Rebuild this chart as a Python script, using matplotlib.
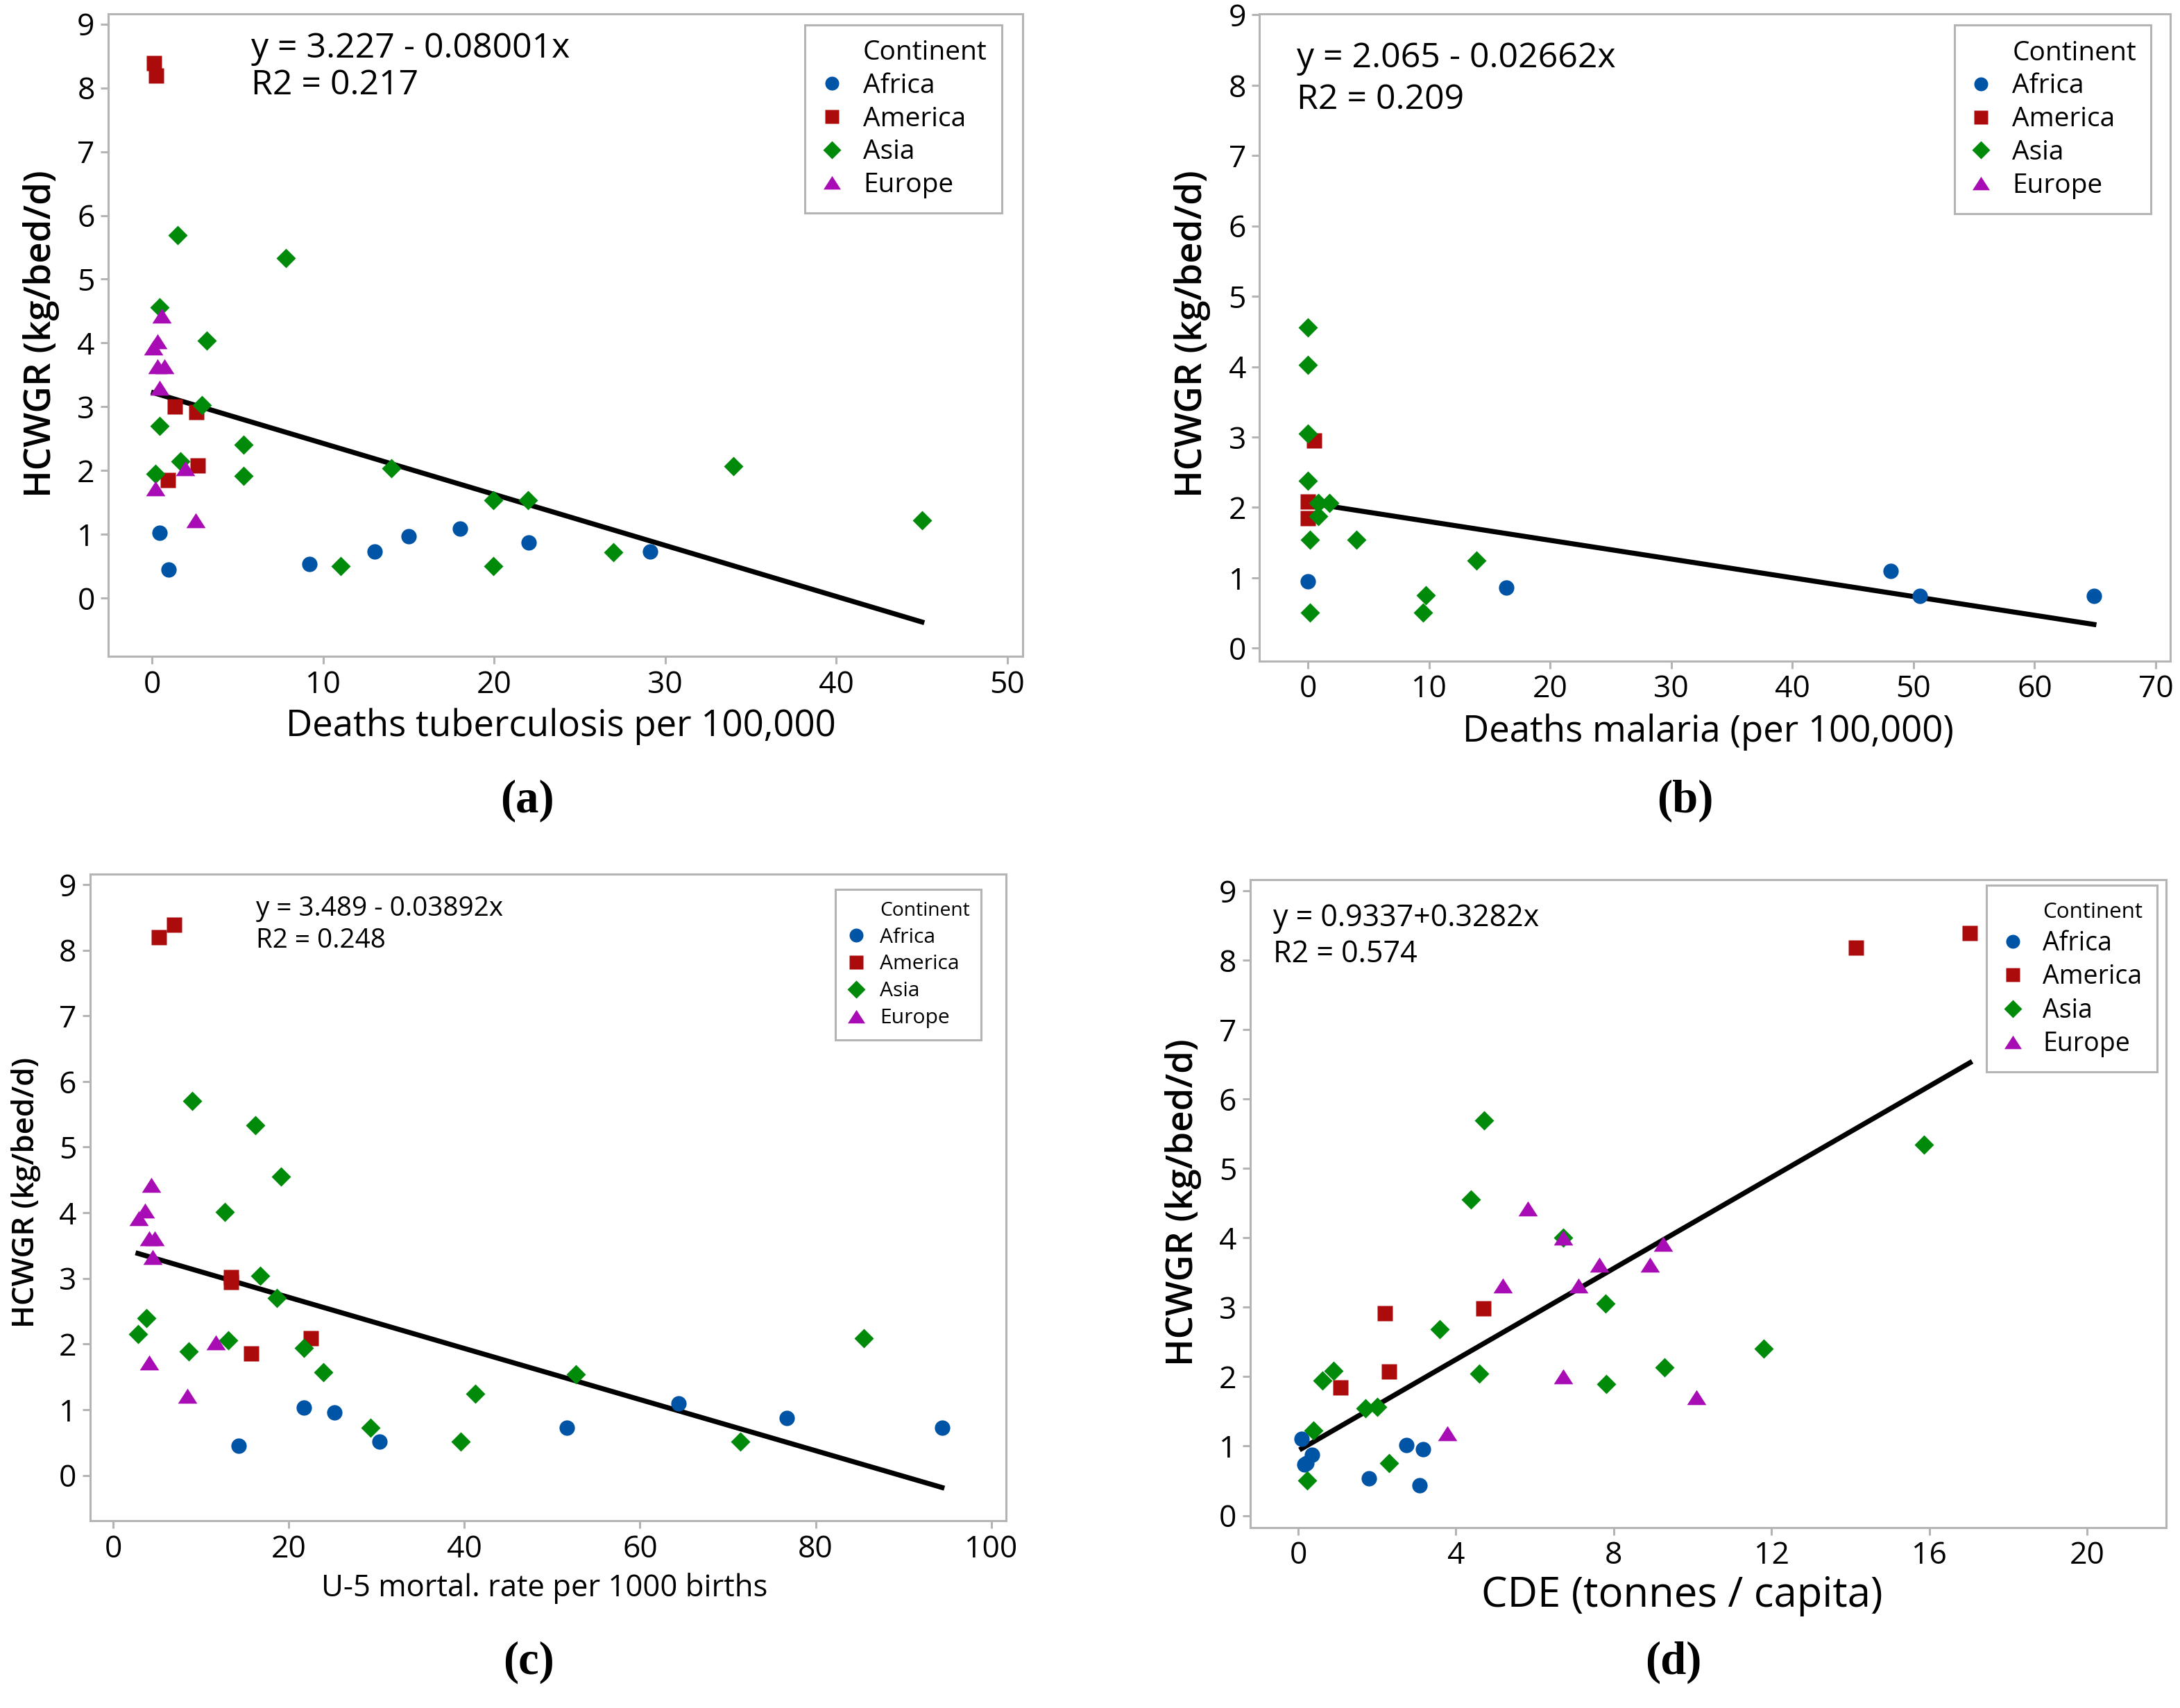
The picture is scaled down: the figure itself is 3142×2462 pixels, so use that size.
import numpy as np
import matplotlib
matplotlib.use("Agg")
import matplotlib.pyplot as plt
from matplotlib.lines import Line2D

plt.rcParams['font.family'] = ['Open Sans', 'DejaVu Sans']

continents = ["Africa", "America", "Asia", "Europe"]
colors = {"Africa": "#0054a6", "America": "#ab0b0b", "Asia": "#008a0a", "Europe": "#a80cb4"}
tri = [(-1, -0.78), (1, -0.78), (0, 0.78)]
markers = {"Africa": "o", "America": "s", "Asia": "D", "Europe": tri}
msizes = {"Africa": 8, "America": 8, "Asia": 7.2, "Europe": 10}

# (a) deaths tuberculosis per 100,000
tb_africa_x = [0.45, 0.96, 9.2, 13.0, 15.0, 18.0, 22.0, 29.1]
tb_africa_y = [1.03, 0.45, 0.53, 0.73, 0.97, 1.09, 0.87, 0.73]
tb_america_x = [0.12, 0.23, 1.35, 2.6, 2.68, 0.95]
tb_america_y = [8.39, 8.19, 3.0, 2.92, 2.08, 1.85]
tb_asia_x = [1.48, 7.84, 0.45, 3.2, 2.93, 0.46, 5.35, 1.67, 0.22, 5.35, 14.0, 19.97, 21.96, 33.97, 45.0, 11.04, 19.97, 26.95]
tb_asia_y = [5.69, 5.33, 4.56, 4.04, 3.03, 2.7, 2.41, 2.15, 1.95, 1.92, 2.04, 1.54, 1.54, 2.07, 1.22, 0.5, 0.5, 0.72]
tb_europe_x = [0.58, 0.34, 0.09, 0.31, 0.74, 0.45, 1.95, 0.2, 2.55]
tb_europe_y = [4.43, 4.03, 3.93, 3.64, 3.64, 3.3, 2.04, 1.72, 1.22]

# (b) deaths malaria per 100,000
ml_africa_x = [0, 16.4, 48.1, 50.5, 64.9]
ml_africa_y = [0.95, 0.86, 1.1, 0.74, 0.74]
ml_america_x = [0.5, 0, 0]
ml_america_y = [2.95, 2.08, 1.85]
ml_asia_x = [0, 0, 0, 0, 0.85, 1.76, 0.85, 0.17, 3.97, 13.9, 9.7, 9.5, 0.17]
ml_asia_y = [4.56, 4.03, 3.05, 2.38, 2.06, 2.06, 1.88, 1.54, 1.54, 1.25, 0.75, 0.51, 0.51]
ml_europe_x = []
ml_europe_y = []

# (c) under-5 mortality rate per 1000 births
u5_africa_x = [14.3, 21.7, 25.2, 30.3, 51.7, 64.4, 76.7, 94.4]
u5_africa_y = [0.45, 1.03, 0.96, 0.51, 0.73, 1.09, 0.87, 0.73]
u5_america_x = [5.2, 6.9, 13.4, 13.4, 22.5, 15.7]
u5_america_y = [8.2, 8.39, 3.02, 2.94, 2.09, 1.86]
u5_asia_x = [9.0, 16.2, 19.1, 12.7, 16.7, 18.6, 3.8, 2.8, 8.6, 13.1, 21.7, 23.9, 29.3, 39.6, 41.2, 52.7, 71.4, 85.5]
u5_asia_y = [5.70, 5.33, 4.55, 4.01, 3.04, 2.70, 2.40, 2.15, 1.89, 2.06, 1.94, 1.57, 0.73, 0.51, 1.24, 1.54, 0.51, 2.09]
u5_europe_x = [4.3, 3.6, 2.9, 4.1, 4.7, 4.5, 11.7, 4.1, 8.4]
u5_europe_y = [4.42, 4.03, 3.92, 3.61, 3.61, 3.32, 2.03, 1.72, 1.21]

# (d) CDE tonnes / capita
cde_africa_x = [0.09, 0.35, 0.22, 0.16, 1.79, 2.75, 3.17, 3.07]
cde_africa_y = [1.10, 0.87, 0.75, 0.73, 0.53, 1.01, 0.95, 0.43]
cde_america_x = [14.14, 17.03, 2.19, 4.7, 2.3, 1.08]
cde_america_y = [8.18, 8.39, 2.91, 2.98, 2.07, 1.84]
cde_asia_x = [4.71, 15.86, 4.38, 6.71, 7.79, 3.58, 11.81, 9.29, 4.59, 7.81, 0.9, 0.61, 1.70, 2.0, 0.38, 2.31, 0.23]
cde_asia_y = [5.69, 5.34, 4.55, 4.0, 3.05, 2.68, 2.40, 2.13, 2.04, 1.89, 2.08, 1.94, 1.54, 1.56, 1.22, 0.75, 0.50]
cde_europe_x = [5.83, 6.71, 9.25, 7.63, 8.92, 5.18, 7.11, 6.71, 10.1, 3.79]
cde_europe_y = [4.42, 4.0, 3.91, 3.61, 3.61, 3.31, 3.31, 2.0, 1.70, 1.18]

# regression results printed on each panel
fits = [(3.227, -0.08001, "y = 3.227 - 0.08001x", "R2 = 0.217"),
        (2.065, -0.02662, "y = 2.065 - 0.02662x", "R2 = 0.209"),
        (3.489, -0.03892, "y = 3.489 - 0.03892x", "R2 = 0.248"),
        (0.9337, 0.3282, "y = 0.9337+0.3282x", "R2 = 0.574")]

panels = [
    dict(data=[(tb_africa_x, tb_africa_y), (tb_america_x, tb_america_y), (tb_asia_x, tb_asia_y), (tb_europe_x, tb_europe_y)],
         pos=[0.0497, 0.6158, 0.4195, 0.3761], xlim=(-2.55, 50.9), ylim=(-0.91, 9.16), xticks=np.arange(0, 51, 10),
         xlabel="Deaths tuberculosis per 100,000", letter="(a)", lpos=(0.242, 0.531),
         txt=(0.156, 0.946, 0.888), fs_txt=18, fs_xl=19, fs_yl=19, fs_tick=16, fs_leg=14, fs_title=14,
         lspace=0.25, xl=(0.495, -0.109), yl=(-0.073, 0.502), leg=(0.977, 0.983)),
    dict(data=[(ml_africa_x, ml_africa_y), (ml_america_x, ml_america_y), (ml_asia_x, ml_asia_y), (ml_europe_x, ml_europe_y)],
         pos=[0.5778, 0.6131, 0.4177, 0.3786], xlim=(-4.0, 71.2), ylim=(-0.18, 9.01), xticks=np.arange(0, 71, 10),
         xlabel="Deaths malaria (per 100,000)", letter="(b)", lpos=(0.773, 0.531),
         txt=(0.041, 0.932, 0.867), fs_txt=18, fs_xl=19, fs_yl=19, fs_tick=16, fs_leg=14, fs_title=14,
         lspace=0.25, xl=(0.493, -0.110), yl=(-0.0735, 0.506), leg=(0.979, 0.983)),
    dict(data=[(u5_africa_x, u5_africa_y), (u5_america_x, u5_america_y), (u5_asia_x, u5_asia_y), (u5_europe_x, u5_europe_y)],
         pos=[0.0413, 0.1097, 0.4202, 0.3786], xlim=(-2.66, 101.7), ylim=(-0.69, 9.16), xticks=np.arange(0, 101, 20),
         xlabel="U-5 mortal. rate per 1000 births", letter="(c)", lpos=(0.2425, 0.0268),
         txt=(0.181, 0.946, 0.897), fs_txt=13.9, fs_xl=15.7, fs_yl=15.7, fs_tick=16, fs_leg=10.8, fs_title=10.2,
         lspace=0.33, xl=(0.496, -0.105), yl=(-0.070, 0.507), leg=(0.973, 0.976)),
    dict(data=[(cde_africa_x, cde_africa_y), (cde_america_x, cde_america_y), (cde_asia_x, cde_asia_y), (cde_europe_x, cde_europe_y)],
         pos=[0.5734, 0.1058, 0.4202, 0.3792], xlim=(-1.22, 22.0), ylim=(-0.17, 9.16), xticks=np.arange(0, 21, 4),
         xlabel="CDE (tonnes / capita)", letter="(d)", lpos=(0.7677, 0.0268),
         txt=(0.025, 0.940, 0.884), fs_txt=15.5, fs_xl=21.5, fs_yl=19, fs_tick=16, fs_leg=13.5, fs_title=11.3,
         lspace=0.28, xl=(0.472, -0.105), yl=(-0.073, 0.502), leg=(0.990, 0.991)),
]

spine_c = "#b4b4b4"
fig = plt.figure(figsize=(15.71, 12.31), dpi=200)

for p, (b0, b1, t1, t2) in zip(panels, fits):
    ax = fig.add_axes(p["pos"])
    allx = []
    for cont, (xs, ys) in zip(continents, p["data"]):
        ax.plot(xs, ys, linestyle="none", marker=markers[cont], ms=msizes[cont],
                color=colors[cont], mec="none", zorder=3)
        allx += list(xs)
    xr = np.array([min(allx), max(allx)])
    ax.plot(xr, b0 + b1 * xr, color="black", lw=2.6, zorder=2)

    ax.set_xlim(*p["xlim"])
    ax.set_ylim(*p["ylim"])
    ax.set_xticks(p["xticks"])
    ax.set_yticks(np.arange(0, 10, 1))
    for s in ax.spines.values():
        s.set_color(spine_c)
        s.set_linewidth(1.1)
    ax.tick_params(direction="out", length=4, width=1.1, color=spine_c,
                   labelsize=p["fs_tick"], pad=3)

    ax.set_xlabel(p["xlabel"], fontsize=p["fs_xl"])
    ax.xaxis.set_label_coords(*p["xl"])
    ax.xaxis.label.set_va("center")
    ax.set_ylabel("HCWGR (kg/bed/d)", fontsize=p["fs_yl"], fontweight="semibold")
    ax.yaxis.set_label_coords(*p["yl"])
    ax.yaxis.label.set_va("center")

    tx, ty1, ty2 = p["txt"]
    ax.text(tx, ty1, t1, transform=ax.transAxes, fontsize=p["fs_txt"], va="center", ha="left")
    ax.text(tx, ty2, t2, transform=ax.transAxes, fontsize=p["fs_txt"], va="center", ha="left")

    handles = [Line2D([], [], linestyle="none", marker="none")]
    labels = ["Continent"]
    for cont in continents:
        handles.append(Line2D([], [], linestyle="none", marker=markers[cont], ms=msizes[cont] * 0.9,
                              color=colors[cont], mec="none"))
        labels.append(cont)
    leg = ax.legend(handles, labels, loc="upper right", bbox_to_anchor=p["leg"],
                    fontsize=p["fs_leg"], frameon=True, fancybox=False, framealpha=1,
                    edgecolor=spine_c, handlelength=0.9, handletextpad=0.7,
                    labelspacing=p["lspace"], borderpad=0.55, borderaxespad=0)
    leg.get_frame().set_linewidth(1.1)
    leg.get_texts()[0].set_fontsize(p["fs_title"])

    fig.text(p["lpos"][0], p["lpos"][1], p["letter"], ha="center", va="center",
             fontsize=24, fontweight="bold", family="Liberation Serif")

fig.savefig("out.png", dpi=200)
